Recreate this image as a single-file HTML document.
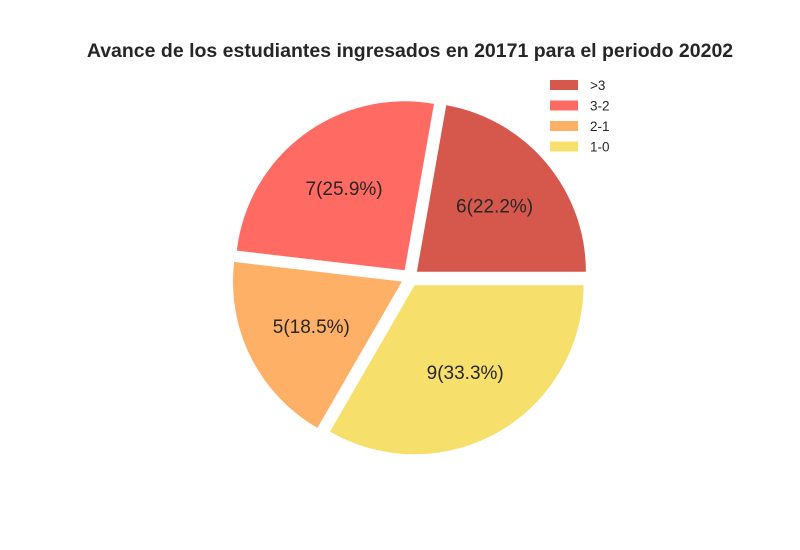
<!DOCTYPE html>
<html><head><meta charset="utf-8"><style>
body{margin:0;background:#fff;}
svg{display:block;font-family:"Liberation Sans",Arial,sans-serif;}
</style></head><body>
<svg id="chart" width="800" height="550" viewBox="0 0 800 550">
<rect width="800" height="550" fill="#fff"/>
<text x="410" y="57" text-anchor="middle" font-size="19.5" font-weight="bold" fill="#262626">Avance de los estudiantes ingresados en 20171 para el periodo 20202</text>
<g id="slices"></g>
<g id="legend"></g>
</svg>
<script>
const categories = [">3", "3-2", "2-1", "1-0"];
const values = [6, 7, 5, 9];
const colors = ["#d6584c", "#ff6b63", "#ffb067", "#f7df6b"];
const cx = 410, cy = 277.5, R = 169, D = 9;
const NS = "http://www.w3.org/2000/svg";
const gS = document.getElementById("slices");
const gL = document.getElementById("legend");
const total = values.reduce((a, b) => a + b, 0);
let start = 0;
values.forEach((v, i) => {
  const sweep = v / total * 2 * Math.PI;
  const end = start + sweep;
  const mid = (start + end) / 2;
  const ox = cx + D * Math.cos(mid), oy = cy - D * Math.sin(mid);
  const x1 = ox + R * Math.cos(start), y1 = oy - R * Math.sin(start);
  const x2 = ox + R * Math.cos(end), y2 = oy - R * Math.sin(end);
  const large = sweep > Math.PI ? 1 : 0;
  const p = document.createElementNS(NS, "path");
  p.setAttribute("d", `M${ox},${oy} L${x1},${y1} A${R},${R} 0 ${large} 0 ${x2},${y2} Z`);
  p.setAttribute("fill", colors[i]);
  
  
  gS.appendChild(p);
  const t = document.createElementNS(NS, "text");
  t.setAttribute("x", ox + 0.6 * R * Math.cos(mid));
  t.setAttribute("y", oy - 0.6 * R * Math.sin(mid) + 6);
  t.setAttribute("text-anchor", "middle");
  t.setAttribute("font-size", "19");
  t.setAttribute("fill", "#262626");
  t.textContent = v + "(" + (v / total * 100).toFixed(1) + "%)";
  
  
  gS.appendChild(t);
  start = end;

  const ly = 80 + i * 20.5;
  const r = document.createElementNS(NS, "rect");
  r.setAttribute("x", 550); r.setAttribute("y", ly);
  r.setAttribute("width", 28); r.setAttribute("height", 10);
  r.setAttribute("fill", colors[i]);
  
  
  gL.appendChild(r);
  const lt = document.createElementNS(NS, "text");
  lt.setAttribute("x", 590); lt.setAttribute("y", ly + 10);
  lt.setAttribute("font-size", "13.5");
  lt.setAttribute("fill", "#262626");
  lt.textContent = categories[i];
  
  
  gL.appendChild(lt);
});
</script>
</body></html>
